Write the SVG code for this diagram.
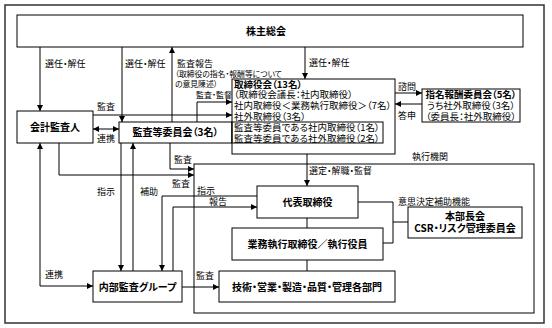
<svg xmlns="http://www.w3.org/2000/svg" width="552" height="328" viewBox="0 0 552 328">
<style>
text{font-family:"Noto Sans CJK JP","Noto Sans",sans-serif;fill:#000;font-feature-settings:"palt";}
.b{font-weight:bold;font-size:10px;text-anchor:middle;}
.t{font-size:9.5px;}
.l{font-size:9px;}
.s{font-size:7.8px;}
.box{fill:#fff;stroke:#000;stroke-width:1;}
.c path{fill:none;stroke:#000;stroke-width:1;}
.a{marker-end:url(#ah);}
</style>
<defs>
<marker id="ah" markerUnits="userSpaceOnUse" markerWidth="6" markerHeight="6" refX="6" refY="3" orient="auto-start-reverse"><path d="M0,0 L6,3 L0,6 z" fill="#000"/></marker>
</defs>
<rect x="5" y="5" width="539" height="318" fill="#fff" stroke="#333" stroke-width="1.5"/>
<g id="exec-frame">
<rect x="194" y="164" width="340" height="149" fill="none" stroke="#000"/>
<text class="l" x="430" y="160" text-anchor="middle">執行機関</text>
</g>
<g class="c" id="connectors">
<path class="a" d="M40,47 V111"/>
<path class="a" d="M122,47 V122"/>
<path class="a" d="M172,122 V47"/>
<path class="a" d="M305,47 V79"/>
<path class="a" d="M197,122 V102 H232"/>
<path class="a" d="M93,115 H232"/>
<path class="a" d="M93,129 H119" marker-start="url(#ah)"/>
<path class="a" d="M395,93 H422"/>
<path class="a" d="M422,104 H395"/>
<path class="a" d="M307,154 V186"/>
<path d="M307,218 V228 M307,260 V271"/>
<path d="M358,202 H393 V243 H383 M393,222 H408"/>
<path class="a" d="M182,287 H219"/>
<path class="a" d="M40,143 V286 H93" marker-start="url(#ah)"/>
<path class="a" d="M121,143 V271"/>
<path class="a" d="M133,271 V143"/>
<path class="a" d="M170,143 V169 H194"/>
<path class="a" d="M59,143 V175 H194"/>
<path class="a" d="M257,196 H162 V271"/>
<path class="a" d="M173,271 V207 H257"/>
</g>
<g id="labels">
<text class="l" x="45" y="66.5">選任・解任</text>
<text class="l" x="125" y="66.5">選任・解任</text>
<text class="l" x="177" y="67">監査報告</text>
<text class="s" x="175" y="77">（取締役の指名・報酬等について</text>
<text class="s" x="175" y="87">の意見陳述）</text>
<text class="l" x="309" y="65.5">選任・解任</text>
<text x="196" y="98" style="font-size:8px">監査・監督</text>
<text class="l" x="97" y="109.5">監査</text>
<text class="l" x="97" y="141.5">連携</text>
<text class="l" x="398" y="89.5">諮問</text>
<text class="l" x="398" y="119">答申</text>
<text class="l" x="309" y="173.5">選定・解職・監督</text>
<text class="l" x="174" y="162.5">監査</text>
<text class="l" x="172" y="186.5">監査</text>
<text class="l" x="97" y="194.5">指示</text>
<text class="l" x="140" y="194.5">補助</text>
<text class="l" x="197" y="194">指示</text>
<text class="l" x="209" y="205">報告</text>
<text class="l" x="398" y="204.5">意思決定補助機能</text>
<text class="l" x="45" y="277.5">連携</text>
<text class="l" x="196" y="278.5">監査</text>
</g>
<g id="shareholders">
<rect class="box" x="17" y="15" width="506" height="32"/>
<text class="b" x="266" y="34.5">株主総会</text>
</g>
<g id="accounting-auditor">
<rect class="box" x="17" y="111" width="76" height="32"/>
<text class="b" x="55" y="130.5">会計監査人</text>
</g>
<g id="audit-committee">
<rect class="box" x="119" y="122" width="113" height="21"/>
<text class="b" x="175.5" y="136">監査等委員会（3名）</text>
</g>
<g id="board">
<rect class="box" x="232" y="79" width="163" height="75"/>
<rect x="232" y="122" width="151" height="21" fill="none" stroke="#000"/>
<text class="t" x="234" y="87.5" font-weight="bold">取締役会（13名）</text>
<text class="t" x="234" y="98">（取締役会議長：社内取締役）</text>
<text class="t" x="234" y="109">社内取締役＜業務執行取締役＞（7名）</text>
<text class="t" x="234" y="120">社外取締役（3名）</text>
<text class="t" x="234" y="131">監査等委員である社内取締役（1名）</text>
<text class="t" x="234" y="141.5">監査等委員である社外取締役（2名）</text>
</g>
<g id="nomination-committee">
<rect class="box" x="422" y="89" width="98" height="33"/>
<text class="t" x="471" y="98" text-anchor="middle" font-weight="bold">指名報酬委員会（5名）</text>
<text class="t" x="471" y="109" text-anchor="middle">うち社外取締役（3名）</text>
<text class="t" x="471" y="120" text-anchor="middle">（委員長：社外取締役）</text>
</g>
<g id="representative">
<rect class="box" x="257" y="186" width="101" height="32"/>
<text class="b" x="307.5" y="205.5">代表取締役</text>
</g>
<g id="executive-officers">
<rect class="box" x="232" y="228" width="151" height="32"/>
<text class="b" x="307.5" y="247.5">業務執行取締役／執行役員</text>
</g>
<g id="departments">
<rect class="box" x="219" y="271" width="176" height="31"/>
<text class="b" x="307" y="290.5">技術・営業・製造・品質・管理各部門</text>
</g>
<g id="management-meeting">
<rect class="box" x="408" y="207" width="114" height="31"/>
<text class="b" x="465" y="219.5">本部長会</text>
<text class="b" x="465" y="231.5">CSR・リスク管理委員会</text>
</g>
<g id="internal-audit">
<rect class="box" x="93" y="271" width="89" height="31"/>
<text class="b" x="137.5" y="290.5">内部監査グループ</text>
</g>
</svg>
